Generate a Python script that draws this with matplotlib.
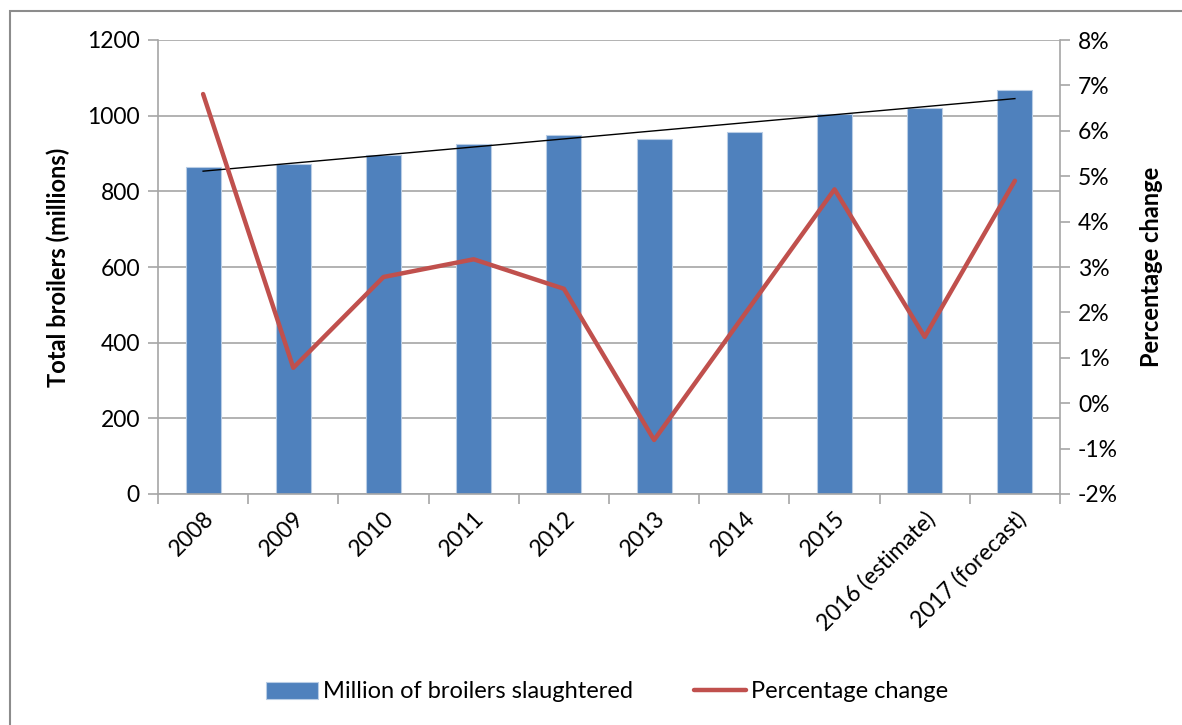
import matplotlib
matplotlib.use("Agg")
import matplotlib.pyplot as plt
import numpy as np
from matplotlib.ticker import FuncFormatter, FixedLocator
from matplotlib.patches import Rectangle

plt.rcParams['font.family'] = ['Lato', 'DejaVu Sans']
plt.rcParams['axes.unicode_minus'] = False

categories = ["2008", "2009", "2010", "2011", "2012", "2013", "2014", "2015",
              "2016 (estimate)", "2017 (forecast)"]
broilers = [863, 872, 896, 925, 948, 938, 957, 1004, 1020, 1069]
pct_change = [6.81, 0.78, 2.78, 3.17, 2.52, -0.81, 1.95, 4.71, 1.46, 4.90]

W, H = 1182, 725
fig = plt.figure(figsize=(W / 100, H / 100), dpi=100)
fig.patches.append(Rectangle((10 / W, -0.1), 1.2, 1.1 - 11 / H + 0.0, transform=fig.transFigure,
                             fill=False, edgecolor='#8c8c8c', linewidth=1.5))

ax = fig.add_axes([158 / W, 1 - 494 / H, (1060 - 158) / W, (494 - 40) / H])
x = np.arange(len(categories))
grid_c = '#a6a6a6'
fs = 16.5

bars = ax.bar(x, broilers, width=0.39, color='#4f81bd', edgecolor='#b9cde5',
              linewidth=0.8, zorder=2, label='Million of broilers slaughtered')
coef = np.polyfit(x, broilers, 1)
ax.plot(x, np.polyval(coef, x), color='black', linewidth=1.0, zorder=4)

ax.set_xlim(-0.5, len(categories) - 0.5)
ax.set_ylim(0, 1200)
ax.set_yticks(np.arange(0, 1201, 200))
ax.grid(axis='y', color=grid_c, linewidth=1.2, zorder=0)
ax.set_axisbelow(True)
ax.set_xticks(x)
ax.set_xticklabels(categories, rotation=45, ha='right', rotation_mode='anchor', fontsize=fs)
ax.xaxis.set_minor_locator(FixedLocator(np.arange(-0.5, len(categories), 1)))
ax.tick_params(axis='x', which='major', length=0, pad=10)
ax.tick_params(axis='x', which='minor', length=7, color=grid_c, width=1.2)
ax.tick_params(axis='y', length=7, color=grid_c, width=1.2, labelsize=fs, pad=6)
for s in ['top', 'right']:
    ax.spines[s].set_visible(False)
for s in ['left', 'bottom']:
    ax.spines[s].set_color(grid_c)
    ax.spines[s].set_linewidth(1.2)
ax.set_ylabel('Total broilers (millions)', fontsize=17, fontweight='bold', labelpad=12)

ax2 = ax.twinx()
ln, = ax2.plot(x, pct_change, color='#c0504d', linewidth=3.2, zorder=5,
               solid_joinstyle='round', solid_capstyle='round', label='Percentage change')
ax2.set_ylim(-2, 8)
ax2.set_yticks(np.arange(-2, 9, 1))
ax2.yaxis.set_major_formatter(FuncFormatter(lambda v, p: f"{int(round(v))}%"))
ax2.tick_params(axis='y', length=7, color=grid_c, width=1.2, labelsize=fs, pad=6)
for s in ['top', 'left', 'bottom']:
    ax2.spines[s].set_visible(False)
ax2.spines['right'].set_color(grid_c)
ax2.spines['right'].set_linewidth(1.2)
ax2.set_ylabel('Percentage change', fontsize=17, fontweight='bold', labelpad=16)

fig.legend([bars, ln], ['Million of broilers slaughtered', 'Percentage change'],
           loc='center', bbox_to_anchor=(607 / W, 1 - 692 / H), ncol=2, frameon=False,
           fontsize=17, handlelength=2.2, handleheight=0.7, columnspacing=2.6, handletextpad=0.2)

fig.savefig('out.png', dpi=100)
